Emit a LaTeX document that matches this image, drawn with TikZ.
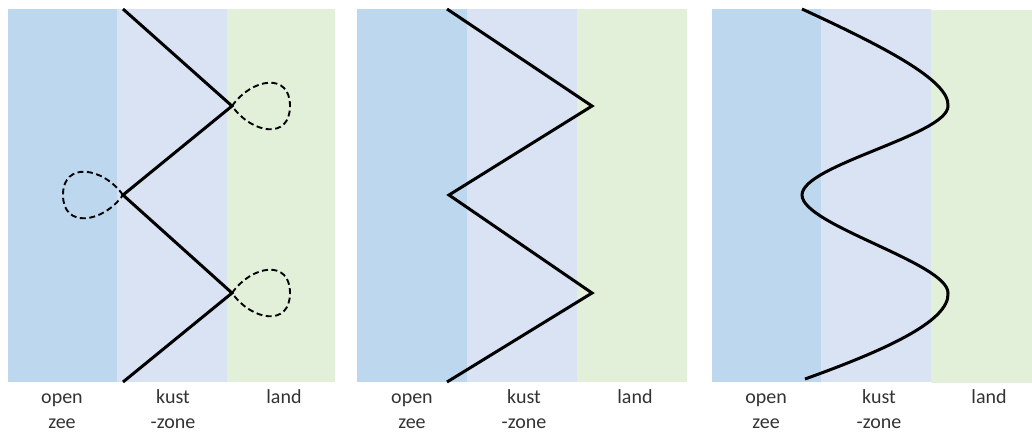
\documentclass[tikz,border=0pt]{standalone}
\usepackage{fontspec}
\setmainfont{Carlito}
\definecolor{seablue}{HTML}{BDD7EE}
\definecolor{coastlav}{HTML}{DAE3F3}
\definecolor{landgreen}{HTML}{E2F0D9}
\tikzset{
  coastline/.style={line width=3pt, black},
  looppath/.style={line width=1.9pt, black, dash pattern=on 6pt off 3.5pt},
  zonelabel/.style={anchor=base, inner sep=0pt, font=\fontsize{20}{24}\selectfont, text=black!80},
}
\begin{document}
\begin{tikzpicture}[x=1pt,y=-1pt]
\useasboundingbox (0,0) rectangle (1032,432);
% ---------- panel 1 ----------
\fill[seablue] (8,9) rectangle (117,382);
\fill[coastlav] (117,9) rectangle (227,382);
\fill[landgreen] (227,9) rectangle (335,382);
\coordinate (a0) at (123,9);
\coordinate (a1) at (232,106);
\coordinate (a2) at (123,195);
\coordinate (a3) at (232,293);
\coordinate (a4) at (123,382);
\draw[looppath] (a1) .. controls (252,78) and (290,72) .. (290,106)
   .. controls (290,140) and (252,134) .. (a1);
\draw[looppath] (a3) .. controls (252,265) and (290,259) .. (290,293)
   .. controls (290,327) and (252,321) .. (a3);
\draw[looppath] (a2) .. controls (103,167) and (63,161) .. (63,195)
   .. controls (63,229) and (103,223) .. (a2);
\draw[coastline] (a0) -- (a1) -- (a2) -- (a3) -- (a4);
\node[zonelabel] (p1o1) at (62,403) {open};
\node[zonelabel] (p1o2) at (62,428) {zee};
\node[zonelabel] (p1k1) at (173,403) {kust};
\node[zonelabel] (p1k2) at (173,428) {-zone};
\node[zonelabel] (p1l) at (284,403) {land};
% ---------- panel 2 ----------
\fill[seablue] (357,9) rectangle (467,382);
\fill[coastlav] (467,9) rectangle (577,382);
\fill[landgreen] (577,9) rectangle (687,382);
\coordinate (b0) at (447,9);
\coordinate (b1) at (592,106);
\coordinate (b2) at (449,195);
\coordinate (b3) at (592,293);
\coordinate (b4) at (447,382);
\draw[coastline] (b0) -- (b1) -- (b2) -- (b3) -- (b4);
\node[zonelabel] (p2o1) at (412,403) {open};
\node[zonelabel] (p2o2) at (412,428) {zee};
\node[zonelabel] (p2k1) at (524,403) {kust};
\node[zonelabel] (p2k2) at (524,428) {-zone};
\node[zonelabel] (p2l) at (635,403) {land};
% ---------- panel 3 ----------
\fill[seablue] (712,9) rectangle (821,382);
\fill[coastlav] (821,9) rectangle (931,382);
\fill[landgreen] (931,10) rectangle (1032,383);
\coordinate (c0) at (802,9);
\coordinate (c1) at (948,106);
\coordinate (c2) at (802,195);
\coordinate (c3) at (948,293);
\coordinate (c4) at (805,379);
\draw[coastline] (c0) .. controls (880,45) and (950,80) .. (c1)
  .. controls (948,135) and (802,165) .. (c2)
  .. controls (802,225) and (948,263) .. (c3)
  .. controls (950,322) and (880,352) .. (c4);
\node[zonelabel] (p3o1) at (766,403) {open};
\node[zonelabel] (p3o2) at (766,428) {zee};
\node[zonelabel] (p3k1) at (879,403) {kust};
\node[zonelabel] (p3k2) at (879,428) {-zone};
\node[zonelabel] (p3l) at (989,403) {land};
\end{tikzpicture}
\end{document}
